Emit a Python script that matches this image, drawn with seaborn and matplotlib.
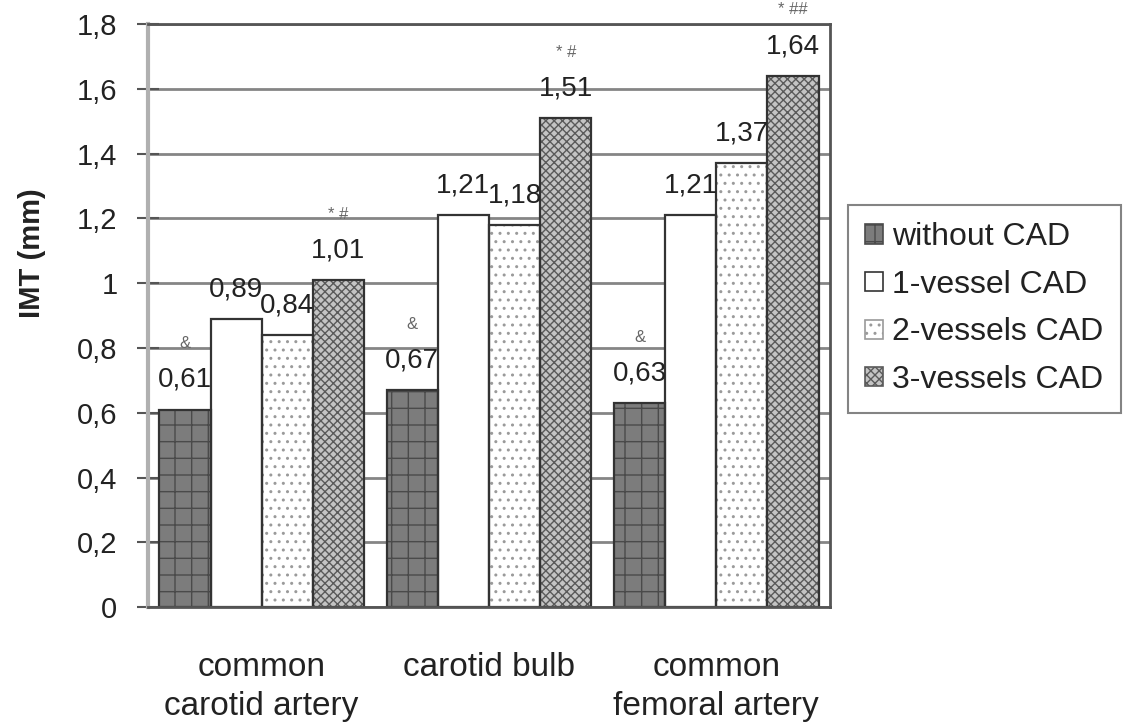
import pandas as pd
import matplotlib
matplotlib.use('Agg')
import matplotlib.pyplot as plt
import seaborn as sns
from matplotlib.patches import Rectangle

# values (IMT in mm)
sites = ['common\ncarotid artery', 'carotid bulb', 'common\nfemoral artery']
groups = ['without CAD', '1-vessel CAD', '2-vessels CAD', '3-vessels CAD']
without_cad = [0.61, 0.67, 0.63]
one_vessel = [0.89, 1.21, 1.21]
two_vessels = [0.84, 1.18, 1.37]
three_vessels = [1.01, 1.51, 1.64]
marks_without = ['&', '&', '&']
marks_three = ['* #', '* #', '* ##']
yticks = [0, 0.2, 0.4, 0.6, 0.8, 1.0, 1.2, 1.4, 1.6, 1.8]

series = [without_cad, one_vessel, two_vessels, three_vessels]
df = pd.DataFrame({
    'site': [s for vals in series for s in sites],
    'group': [g for g, vals in zip(groups, series) for _ in vals],
    'imt': [v for vals in series for v in vals],
})

sns.set_style('white')
plt.rcParams['font.family'] = ['Liberation Sans', 'DejaVu Sans']
plt.rcParams['hatch.linewidth'] = 1.0

face_colors = {'without CAD': '#7c7c7c', '1-vessel CAD': '#ffffff',
               '2-vessels CAD': '#ffffff', '3-vessels CAD': '#c4c4c4'}
hatches = ['+', '', '..', 'xxxx']
hatch_colors = ['#4a4a4a', '#333333', '#9a9a9a', '#5a5a5a']

fig = plt.figure(figsize=(11.42, 7.22), dpi=100)
ax = fig.add_axes([0.1296, 0.159, 0.5972, 0.8078])

sns.barplot(data=df, x='site', y='imt', hue='group', order=sites, hue_order=groups,
            palette=face_colors, saturation=1, width=0.9, gap=0, errorbar=None,
            legend=False, ax=ax)

for cont, h, hc in zip(ax.containers, hatches, hatch_colors):
    for p in cont:
        p.set_hatch(h)
        p.set_edgecolor(hc)
        p.set_linewidth(1.2)
        # dark outline on top of the hatched bar
        ax.add_patch(Rectangle(p.get_xy(), p.get_width(), p.get_height(),
                               fill=False, edgecolor='#333333', linewidth=1.6, zorder=p.get_zorder() + 0.1))

def comma(v):
    return f'{v:.2f}'.replace('.', ',')

for cont, vals in zip(ax.containers, series):
    ax.bar_label(cont, labels=[comma(v) for v in vals], padding=12, fontsize=20, color='#222222')

for cont, marks in [(ax.containers[0], marks_without), (ax.containers[3], marks_three)]:
    for p, m in zip(cont, marks):
        ax.annotate(m, (p.get_x() + p.get_width() / 2, p.get_height()), xytext=(0, 42),
                    textcoords='offset points', ha='center', va='bottom', fontsize=12,
                    color='#666666', annotation_clip=False)

ax.set_ylim(0, 1.8)
ax.set_xlim(-0.5, 2.5)
ax.set_yticks(yticks)
ax.set_yticklabels([comma(t).rstrip('0').rstrip(',') if t != 0 else '0' for t in yticks])
ax.yaxis.grid(True, color='#858585', linewidth=2)
ax.set_axisbelow(True)

ax.set_xticks(range(len(sites)))
ax.set_xticklabels(sites, fontsize=24, color='#222222', linespacing=1.35)
ax.set_xticks([-0.5, 0.5, 1.5, 2.5], minor=True)
ax.tick_params(axis='x', which='major', length=0, pad=32)
ax.tick_params(axis='x', which='minor', length=10, width=1.5, color='#777777', direction='out')
ax.tick_params(axis='y', direction='inout', length=16, width=1.5, color='#555555',
               labelsize=21, labelcolor='#222222', pad=14, left=True)

ax.set_xlabel('')
ax.set_ylabel('IMT (mm)', fontsize=21, fontweight='bold', color='#222222')
ax.yaxis.set_label_coords(-0.15, 0.607)

ax.spines['left'].set_color('#b0b0b0')
ax.spines['left'].set_linewidth(3)
for s in ['bottom', 'right', 'top']:
    ax.spines[s].set_color('#555555')
    ax.spines[s].set_linewidth(2)

leg = ax.legend(ax.containers, groups, loc='upper left', bbox_to_anchor=(1.026, 0.69),
                borderaxespad=0, frameon=True, fancybox=False, fontsize=23,
                handlelength=0.55, handleheight=0.55, handletextpad=0.3,
                labelspacing=0.55, borderpad=0.55)
leg.get_frame().set_edgecolor('#666666')
leg.get_frame().set_linewidth(1.5)
for t in leg.get_texts():
    t.set_color('#222222')

fig.savefig('out.png', dpi=100)
